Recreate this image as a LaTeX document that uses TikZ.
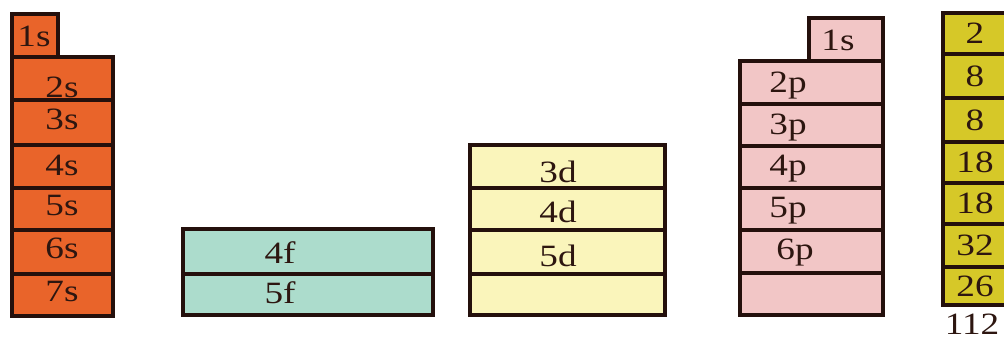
\documentclass[tikz,border=0pt]{standalone}
\usepackage{fontspec}
\setmainfont{Liberation Serif}[FakeStretch=1.2]
\usepackage{tikz}
\usetikzlibrary{positioning}
\definecolor{sorange}{RGB}{233,100,42}
\definecolor{ppink}{RGB}{242,198,198}
\definecolor{fteal}{RGB}{172,220,204}
\definecolor{dcream}{RGB}{250,245,187}
\definecolor{nyellow}{RGB}{214,200,40}
\definecolor{edge}{RGB}{36,16,12}
\definecolor{ink}{RGB}{45,22,16}
\tikzstyle{cell}=[draw=edge,line width=3.2pt,line join=miter]
\tikzstyle{scell}=[cell,fill=sorange]
\tikzstyle{pcell}=[cell,fill=ppink]
\tikzstyle{fcell}=[cell,fill=fteal]
\tikzstyle{dcell}=[cell,fill=dcream]
\tikzstyle{ncell}=[cell,fill=nyellow]
\tikzstyle{lbl}=[ink,inner sep=0pt,text height=21pt,text depth=0pt,font=\fontsize{31}{31}\selectfont]

\begin{document}
\begin{tikzpicture}[x=1pt,y=-1pt]
    \useasboundingbox (0,0) rectangle (1004,343);
    % s block
    \draw[scell] (12,14) rectangle (58,57);
    \node[lbl] (s1) at (34,36) {1s};
    \foreach \t/\b/\l/\y in {57/100/2s/87, 100/145/3s/119, 145/188/4s/165, 188/230/5s/205, 230/274/6s/248, 274/316/7s/291}
        {\draw[scell] (12,\t) rectangle (113,\b);
         \node[lbl] (s-\l) at (62,\y) {\l};}
    % f block
    \foreach \t/\b/\l/\y in {229/274/4f/253, 274/315/5f/293}
        {\draw[fcell] (183,\t) rectangle (433,\b);
         \node[lbl] (f-\l) at (280,\y) {\l};}
    % d block
    \foreach \t/\b/\l/\y in {145/188/3d/172, 188/230/4d/212, 230/274/5d/256}
        {\draw[dcell] (470,\t) rectangle (665,\b);
         \node[lbl] (d-\l) at (558,\y) {\l};}
    \draw[dcell] (470,274) rectangle (665,315);
    % p block
    \draw[pcell] (809,18) rectangle (883,61);
    \node[lbl] (p1) at (838,40) {1s};
    \foreach \t/\b/\l/\x/\y in {61/104/2p/788/82, 104/146/3p/788/124, 146/188/4p/788/165, 188/230/5p/788/207, 230/273/6p/795/249}
        {\draw[pcell] (740,\t) rectangle (883,\b);
         \node[lbl] (p-\l) at (\x,\y) {\l};}
    \draw[pcell] (740,273) rectangle (883,315);
    % totals
    \foreach \t/\b/\n/\y in {13/54/2/33, 54/98/8/76, 98/142/8/120, 142/183/18/162, 183/224/18/203, 224/267/32/245, 267/305/26/286}
        {\draw[ncell] (943,\t) rectangle (1012,\b);
         \node[lbl] (n-\t) at (975,\y) {\n};}
    \node[lbl] (sum) at (972,324) {112};
\end{tikzpicture}
\end{document}
